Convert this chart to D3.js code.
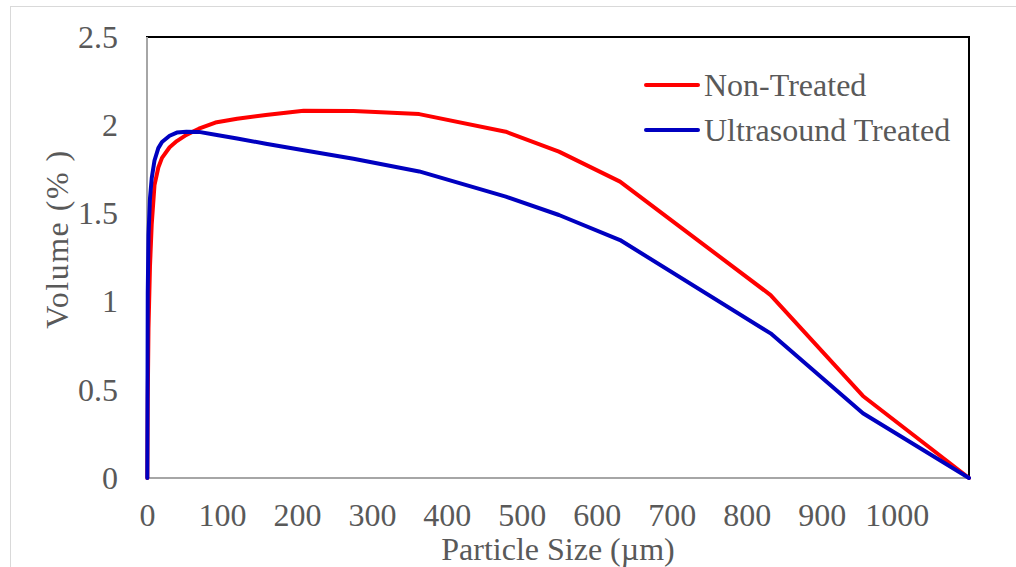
<!DOCTYPE html>
<html>
<head>
<meta charset="utf-8">
<script src="https://cdn.jsdelivr.net/npm/d3@7"></script>
<style>
  html, body { margin: 0; padding: 0; background: #fff; }
  svg { display: block; }
  text { font-family: "Liberation Serif", "Times New Roman", serif; fill: #595959; }
</style>
</head>
<body>
<svg id="chart" width="1016" height="567"></svg>
<script>
// Particle size bins (µm)
const particleSize = [0.4, 1.0, 2.0, 3.98, 6.31, 10.0, 15.1, 20.0, 30.2, 39.8, 52.5, 69.2, 91.2,
  120.2, 158.5, 208.9, 275.4, 363.1, 478.6, 549.5, 631.0, 831.8, 955.0, 1096.5];

// Volume (%) per bin
const nonTreated = [0, 0.45, 0.85, 1.20, 1.44, 1.66, 1.76, 1.815, 1.875, 1.91, 1.945, 1.98, 2.015,
  2.037, 2.058, 2.082, 2.080, 2.063, 1.963, 1.850, 1.680, 1.037, 0.465, 0];
const ultrasoundTreated = [0, 1.05, 1.38, 1.585, 1.70, 1.80, 1.87, 1.905, 1.94, 1.958, 1.963, 1.962, 1.946,
  1.925, 1.895, 1.858, 1.810, 1.738, 1.595, 1.491, 1.349, 0.820, 0.367, 0];

const seriesNames = ["Non-Treated", "Ultrasound Treated"];
const seriesColors = ["#ff0000", "#0000c0"];

const xTicks = [0, 100, 200, 300, 400, 500, 600, 700, 800, 900, 1000];
const yTicks = [0, 0.5, 1, 1.5, 2, 2.5];

const svg = d3.select("#chart");
const plotLeft = 147, plotRight = 969, plotTop = 37, plotBottom = 478;
const fontSize = 32;

const x = d3.scaleLinear().domain([0, 1096.5]).range([plotLeft, plotRight]);
const y = d3.scaleLinear().domain([0, 2.5]).range([plotBottom, plotTop]);

// outer chart frame
svg.append("rect")
  .attr("x", 10.5).attr("y", 6.5)
  .attr("width", 1020).attr("height", 580)
  .attr("fill", "none").attr("stroke", "#d9d9d9").attr("stroke-width", 1);

// plot area border (top / right)
svg.append("rect")
  .attr("x", plotLeft).attr("y", plotTop)
  .attr("width", plotRight - plotLeft).attr("height", plotBottom - plotTop)
  .attr("fill", "none").attr("stroke", "#000").attr("stroke-width", 2);

// y axis labels
const yAxis = svg.append("g")
  .attr("transform", `translate(${plotLeft},0)`)
  .call(d3.axisLeft(y).tickValues(yTicks).tickSize(0).tickPadding(29)
    .tickFormat(d3.format("")));
yAxis.select(".domain").remove();
yAxis.selectAll("text")
  .attr("font-size", fontSize).attr("font-family", "Liberation Serif").attr("fill", "#595959")
  .attr("dy", "0.32em");

// x axis labels
const xAxis = svg.append("g")
  .attr("transform", `translate(0,${plotBottom})`)
  .call(d3.axisBottom(x).tickValues(xTicks).tickSize(0).tickPadding(25)
    .tickFormat(d3.format("d")));
xAxis.select(".domain").remove();
xAxis.selectAll("text")
  .attr("font-size", fontSize).attr("font-family", "Liberation Serif").attr("fill", "#595959")
  .attr("dy", "0.71em");

// axis lines
svg.append("line")
  .attr("x1", plotLeft).attr("x2", plotLeft).attr("y1", plotTop).attr("y2", plotBottom + 1)
  .attr("stroke", "#a6a6a6").attr("stroke-width", 2);
svg.append("line")
  .attr("x1", plotLeft - 1).attr("x2", plotRight).attr("y1", plotBottom).attr("y2", plotBottom)
  .attr("stroke", "#a6a6a6").attr("stroke-width", 2);

// series lines
const line = d3.line().x(d => x(d[0])).y(d => y(d[1]));
[nonTreated, ultrasoundTreated].forEach((vals, i) => {
  svg.append("path")
    .datum(particleSize.map((s, k) => [s, vals[k]]))
    .attr("d", line)
    .attr("fill", "none")
    .attr("stroke", seriesColors[i])
    .attr("stroke-width", 4)
    .attr("stroke-linejoin", "round")
    .attr("stroke-linecap", "round");
});

// axis titles
svg.append("text")
  .attr("x", (plotLeft + plotRight) / 2).attr("y", 560)
  .attr("text-anchor", "middle").attr("font-size", fontSize)
  .text("Particle Size (µm)");
svg.append("text")
  .attr("transform", "translate(68,239) rotate(-90)")
  .attr("text-anchor", "middle").attr("font-size", fontSize)
  .attr("letter-spacing", 1.5)
  .text("Volume (% )");

// legend
const legend = svg.append("g");
seriesNames.forEach((name, i) => {
  const ly = 85 + i * 45;
  legend.append("line")
    .attr("x1", 646).attr("x2", 698).attr("y1", ly).attr("y2", ly)
    .attr("stroke", seriesColors[i]).attr("stroke-width", 4).attr("stroke-linecap", "round");
  legend.append("text")
    .attr("x", 704).attr("y", ly + 11)
    .attr("font-size", fontSize)
    .text(name);
});
</script>
</body>
</html>
